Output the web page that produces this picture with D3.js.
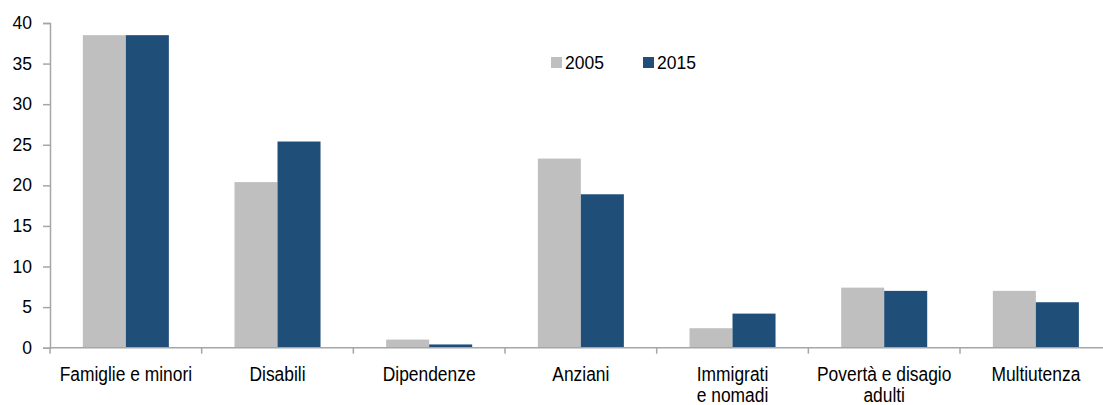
<!DOCTYPE html>
<html>
<head>
<meta charset="utf-8">
<script src="https://cdn.jsdelivr.net/npm/d3@7"></script>
<style>
  body { margin: 0; background: #fff; }
  svg text { font-family: "Liberation Sans", Arial, sans-serif; fill: #000; }
</style>
</head>
<body>
<div id="chart"></div>
<script>
const categories = [
  ["Famiglie e minori"],
  ["Disabili"],
  ["Dipendenze"],
  ["Anziani"],
  ["Immigrati", "e nomadi"],
  ["Povertà e disagio", "adulti"],
  ["Multiutenza"]
];
const seriesNames = ["2005", "2015"];
const values2005 = [38.5, 20.4, 1.0, 23.3, 2.4, 7.4, 7.0];
const values2015 = [38.5, 25.4, 0.4, 18.9, 4.2, 7.0, 5.6];
const yTicks = [0, 5, 10, 15, 20, 25, 30, 35, 40];
const colors = ["#bfbfbf", "#1f4e79"];

const WIDTH = 1103, HEIGHT = 405;
const PLOT_LEFT = 50, PLOT_RIGHT = 1111.7, PLOT_TOP = 23, PLOT_BOTTOM = 347.7;

const svg = d3.select("#chart").append("svg")
  .attr("width", WIDTH)
  .attr("height", HEIGHT);

const catKeys = categories.map(d => d.join(" "));

const x0 = d3.scaleBand().domain(catKeys).range([PLOT_LEFT, PLOT_RIGHT]).padding(0);
const x1 = d3.scaleBand().domain(seriesNames).range([0, x0.bandwidth()])
  .paddingInner(0).paddingOuter(0.763);
const y = d3.scaleLinear().domain([0, 40]).range([PLOT_BOTTOM, PLOT_TOP]);

const rows = catKeys.map((k, i) => ({ key: k, vals: [values2005[i], values2015[i]] }));

// bars
const groups = svg.append("g").selectAll("g")
  .data(rows)
  .enter()
  .append("g")
  .attr("transform", d => "translate(" + x0(d.key) + ",0)");

groups.selectAll("rect")
  .data(d => d.vals.map((v, j) => ({ s: seriesNames[j], v: v, j: j })))
  .enter()
  .append("rect")
  .attr("x", d => x1(d.s))
  .attr("width", x1.bandwidth())
  .attr("y", d => y(d.v))
  .attr("height", d => y(0) - y(d.v))
  .attr("fill", d => colors[d.j]);

// y axis
const yAxis = svg.append("g")
  .attr("transform", "translate(" + PLOT_LEFT + ",0)")
  .call(d3.axisLeft(y).tickValues(yTicks).tickSize(7).tickPadding(11).tickFormat(d3.format("d")));
yAxis.select(".domain").attr("stroke", "#a6a6a6").attr("stroke-width", 1.5);
yAxis.selectAll(".tick line").attr("stroke", "#a6a6a6").attr("stroke-width", 1.5);
yAxis.selectAll("text").style("font-size", "17.5px");

// x axis
const xAxisG = svg.append("g");
xAxisG.append("line")
  .attr("x1", PLOT_LEFT).attr("x2", PLOT_RIGHT)
  .attr("y1", y(0)).attr("y2", y(0))
  .attr("stroke", "#a6a6a6").attr("stroke-width", 1.5);
xAxisG.selectAll("line.tk")
  .data(catKeys.concat(["end"]))
  .enter()
  .append("line")
  .attr("class", "tk")
  .attr("x1", (d, i) => PLOT_LEFT + i * x0.step())
  .attr("x2", (d, i) => PLOT_LEFT + i * x0.step())
  .attr("y1", y(0))
  .attr("y2", y(0) + 6)
  .attr("stroke", "#a6a6a6").attr("stroke-width", 1.5);

// category labels are set in a condensed face, so squeeze them horizontally
xAxisG.selectAll("g.lbl")
  .data(categories)
  .enter()
  .append("g")
  .attr("class", "lbl")
  .attr("transform", (d, i) => "translate(" + (x0(catKeys[i]) + x0.bandwidth() / 2) + ",381) scale(0.87,1)")
  .append("text")
  .attr("text-anchor", "middle")
  .style("font-size", "20px")
  .each(function (d) {
    const t = d3.select(this);
    d.forEach((line, k) => {
      t.append("tspan")
        .attr("x", 0)
        .attr("dy", k === 0 ? 0 : 21)
        .text(line);
    });
  });

// legend
const legendX = [551, 643];
const legend = svg.append("g").selectAll("g")
  .data(seriesNames)
  .enter()
  .append("g")
  .attr("transform", (d, i) => "translate(" + legendX[i] + ",57)");
legend.append("rect")
  .attr("width", 11).attr("height", 11)
  .attr("fill", (d, i) => colors[i]);
legend.append("text")
  .attr("x", 14).attr("y", 11.5)
  .style("font-size", "17.5px")
  .text(d => d);
</script>
</body>
</html>
